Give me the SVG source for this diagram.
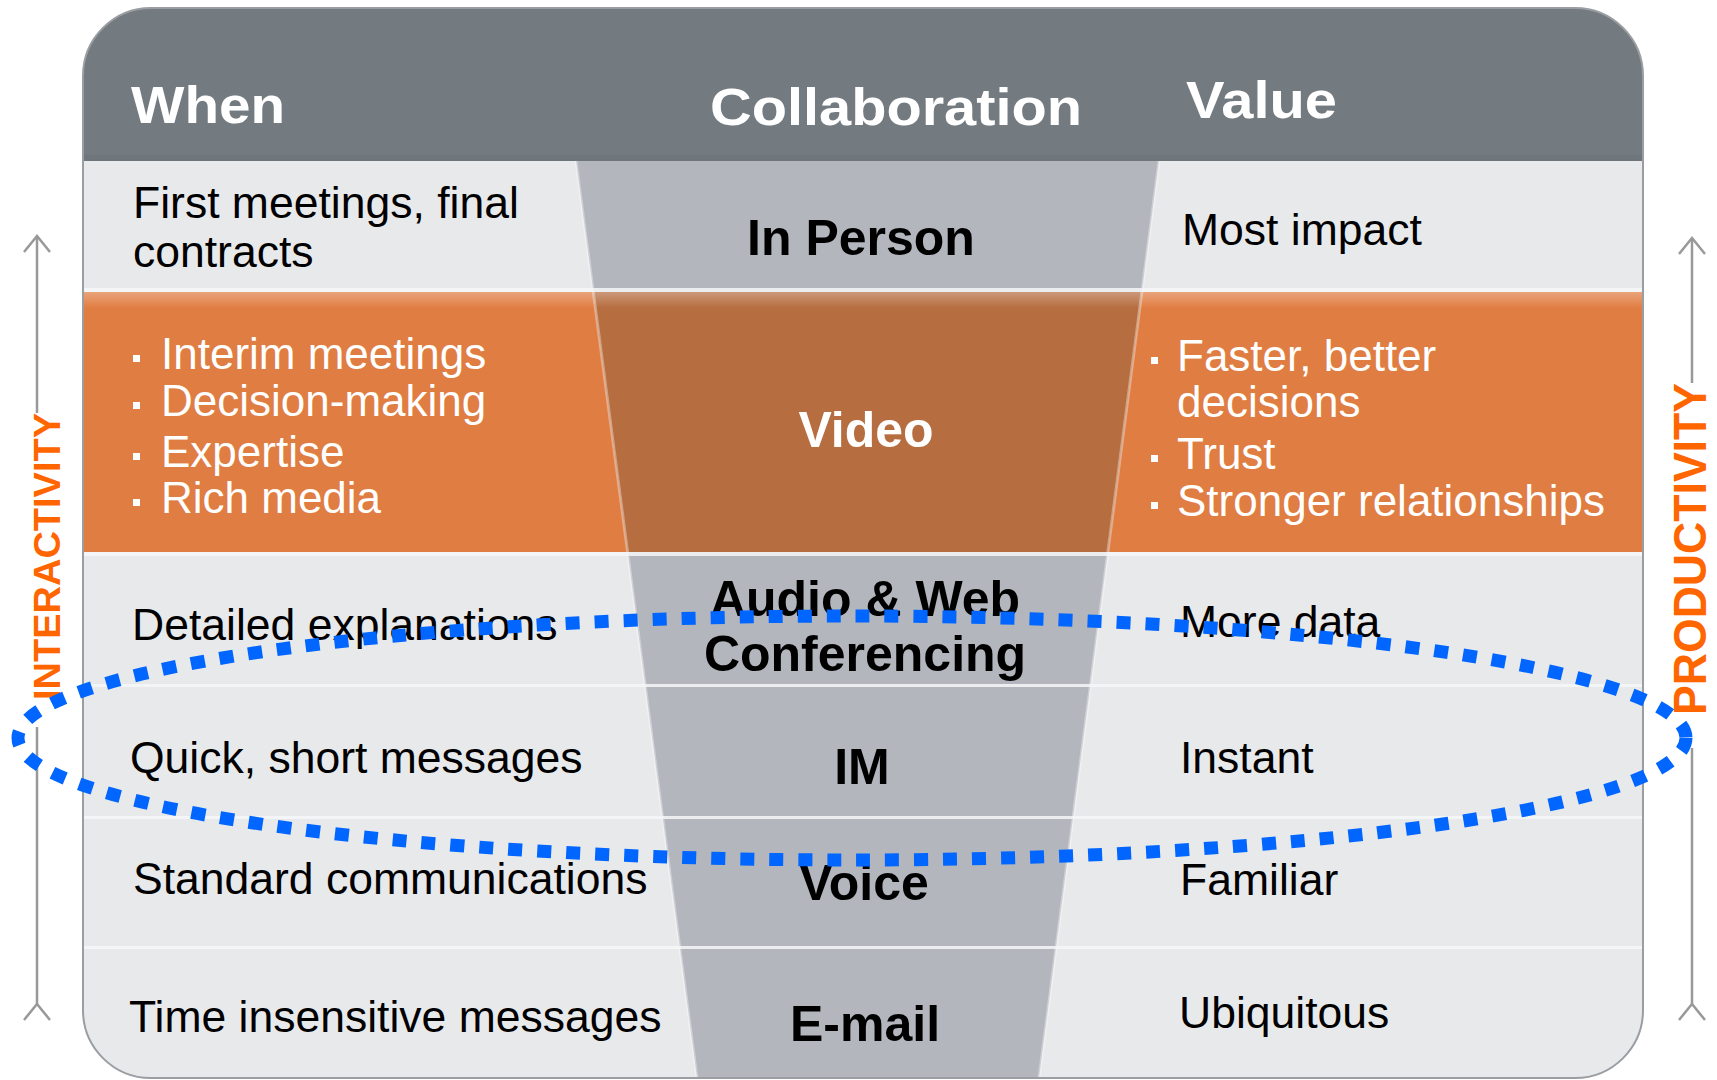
<svg xmlns="http://www.w3.org/2000/svg" width="1717" height="1080" viewBox="0 0 1717 1080">
<defs>
  <clipPath id="card"><rect x="83" y="8" width="1560" height="1070" rx="68" ry="68"/></clipPath>
  <clipPath id="orangeRow"><rect x="83" y="292" width="1560" height="260"/></clipPath>
  <linearGradient id="orTop" x1="0" y1="0" x2="0" y2="1">
    <stop offset="0" stop-color="#ffffff" stop-opacity="0.3"/>
    <stop offset="1" stop-color="#ffffff" stop-opacity="0"/>
  </linearGradient>
  <style>
    .hd{font-family:"Liberation Sans",Arial,sans-serif;font-weight:bold;font-size:52px;fill:#ffffff}
    .tx{font-family:"Liberation Sans",Arial,sans-serif;font-size:44.5px;fill:#000000}
    .tw{font-family:"Liberation Sans",Arial,sans-serif;font-size:44px;fill:#ffffff}
    .md{font-family:"Liberation Sans",Arial,sans-serif;font-weight:bold;font-size:50px;fill:#000000;text-anchor:middle}
    .mw{font-family:"Liberation Sans",Arial,sans-serif;font-weight:bold;font-size:50px;fill:#ffffff;text-anchor:middle}
    .ax{font-family:"Liberation Sans",Arial,sans-serif;font-weight:bold;fill:#ff6600}
    .sep{fill:#f6f7f8;opacity:0.85}
    .bul{fill:#ffffff}
    .arr{fill:none;stroke:#999999;stroke-width:2.5}
  </style>
</defs>
<rect width="1717" height="1080" fill="#ffffff"/>

<g id="card-body" clip-path="url(#card)">
  <rect x="83" y="8" width="1560" height="1070" fill="#e8e9eb"/>
  <rect id="header-band" x="83" y="8" width="1560" height="153" fill="#747b80"/>
  <rect x="83" y="155" width="1560" height="6" fill="#6f767b"/>
  <rect id="orange-band" x="83" y="292" width="1560" height="260" fill="#e07d42"/>
  <polygon id="funnel" points="576,161 1159,161 1039,1078 697,1078" fill="#b3b6bd"/>
  <polygon clip-path="url(#orangeRow)" points="576,161 1159,161 1039,1078 697,1078" fill="#b66d40"/>
  <polyline points="576,161 697,1078" fill="none" stroke="#ffffff" stroke-opacity="0.35" stroke-width="3"/>
  <polyline points="1159,161 1039,1078" fill="none" stroke="#ffffff" stroke-opacity="0.35" stroke-width="3"/>
  <rect x="83" y="292" width="1560" height="16" fill="url(#orTop)"/>
  <rect class="sep" x="83" y="288" width="1560" height="4"/>
  <rect class="sep" x="83" y="552" width="1560" height="4"/>
  <rect class="sep" x="83" y="684" width="1560" height="3"/>
  <rect class="sep" x="83" y="816" width="1560" height="3"/>
  <rect class="sep" x="83" y="946" width="1560" height="3"/>
</g>
<rect x="83" y="8" width="1560" height="1070" rx="68" ry="68" fill="none" stroke="#9a9ea2" stroke-width="2"/>

<g id="header">
  <text class="hd" x="131" y="123" textLength="154" lengthAdjust="spacingAndGlyphs">When</text>
  <text class="hd" x="710" y="125" textLength="372" lengthAdjust="spacingAndGlyphs">Collaboration</text>
  <text class="hd" x="1186" y="118" textLength="151" lengthAdjust="spacingAndGlyphs">Value</text>
</g>

<g id="row-in-person">
  <text class="tx" x="133" y="218">First meetings, final</text>
  <text class="tx" x="133" y="267">contracts</text>
  <text class="md" x="861" y="255">In Person</text>
  <text class="tx" x="1182" y="245">Most impact</text>
</g>

<g id="row-video">
  <rect class="bul" x="133" y="355" width="7" height="7"/>
  <rect class="bul" x="133" y="402" width="7" height="7"/>
  <rect class="bul" x="133" y="453" width="7" height="7"/>
  <rect class="bul" x="133" y="499" width="7" height="7"/>
  <text class="tw" x="161" y="369">Interim meetings</text>
  <text class="tw" x="161" y="416">Decision-making</text>
  <text class="tw" x="161" y="467">Expertise</text>
  <text class="tw" x="161" y="513">Rich media</text>
  <text class="mw" x="866" y="447">Video</text>
  <rect class="bul" x="1151" y="357" width="7" height="7"/>
  <rect class="bul" x="1151" y="455" width="7" height="7"/>
  <rect class="bul" x="1151" y="502" width="7" height="7"/>
  <text class="tw" x="1177" y="371">Faster, better</text>
  <text class="tw" x="1177" y="417">decisions</text>
  <text class="tw" x="1177" y="469">Trust</text>
  <text class="tw" x="1177" y="516">Stronger relationships</text>
</g>

<g id="row-audio-web">
  <text class="tx" x="132" y="640">Detailed explanations</text>
  <text class="md" x="865" y="616">Audio &amp; Web</text>
  <text class="md" x="865" y="671">Conferencing</text>
  <text class="tx" x="1180" y="637">More data</text>
</g>

<g id="row-im">
  <text class="tx" x="130" y="773">Quick, short messages</text>
  <text class="md" x="862" y="784">IM</text>
  <text class="tx" x="1180" y="773">Instant</text>
</g>

<g id="row-voice">
  <text class="tx" x="133" y="894">Standard communications</text>
  <text class="md" x="864" y="900">Voice</text>
  <text class="tx" x="1180" y="895">Familiar</text>
</g>

<g id="row-email">
  <text class="tx" x="129" y="1032">Time insensitive messages</text>
  <text class="md" x="865" y="1041">E-mail</text>
  <text class="tx" x="1179" y="1028">Ubiquitous</text>
</g>

<g id="connectors">
  <line class="arr" x1="37" y1="237" x2="37" y2="413"/>
  <line class="arr" x1="37" y1="727" x2="37" y2="1004"/>
  <polyline class="arr" points="24,252 37,236 50,252"/>
  <polyline class="arr" points="24,1020 37,1004 50,1020"/>
  <line class="arr" x1="1692" y1="239" x2="1692" y2="383"/>
  <line class="arr" x1="1692" y1="748" x2="1692" y2="1004"/>
  <polyline class="arr" points="1679,254 1692,238 1705,254"/>
  <polyline class="arr" points="1679,1020 1692,1004 1705,1020"/>
</g>

<g id="axis-interactivity">
  <text class="ax" font-size="37" transform="translate(60,700) rotate(-90)" textLength="287" lengthAdjust="spacingAndGlyphs">INTERACTIVITY</text>
</g>
<g id="axis-productivity">
  <text class="ax" font-size="46" transform="translate(1706,715) rotate(-90)" textLength="332" lengthAdjust="spacingAndGlyphs">PRODUCTIVITY</text>
</g>

<g id="highlight">
  <ellipse cx="852" cy="738" rx="834" ry="122" fill="none" stroke="#0066ff" stroke-width="13" stroke-dasharray="14 15"/>
</g>
</svg>
